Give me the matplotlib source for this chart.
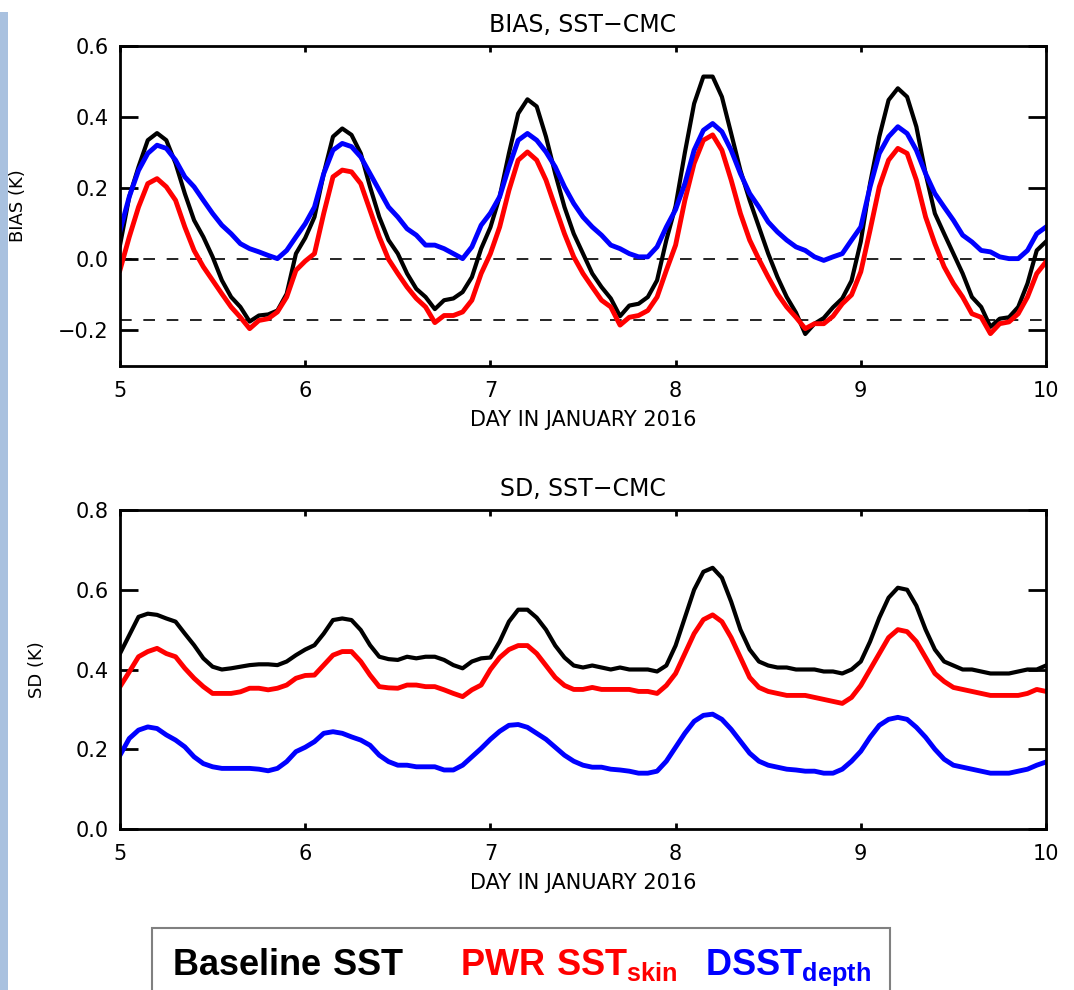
import numpy as np
import matplotlib
matplotlib.use("Agg")
import matplotlib.pyplot as plt
from matplotlib.patches import Rectangle

plt.rcParams['font.family'] = ['DejaVu Sans']
plt.rcParams['mathtext.fontset'] = 'custom'
plt.rcParams['mathtext.bf'] = 'Liberation Sans:bold'
plt.rcParams['mathtext.rm'] = 'Liberation Sans'

# time axis: days 5..10 every 0.05 day
days = np.round(np.linspace(5, 10, 101), 2)

# BIAS, SST-CMC (K)
bias_base = [
    0.04, 0.176, 0.26, 0.335, 0.355, 0.335, 0.27, 0.185, 0.11, 0.063,
    0.007, -0.059, -0.106, -0.134, -0.175, -0.158, -0.155, -0.144, -0.097, 0.016,
    0.06, 0.119, 0.241, 0.345, 0.368, 0.35, 0.298, 0.204, 0.119, 0.054,
    0.016, -0.04, -0.083, -0.106, -0.14, -0.115, -0.11, -0.092, -0.05, 0.03,
    0.09, 0.176, 0.298, 0.41, 0.45, 0.43, 0.345, 0.241, 0.147, 0.072,
    0.016, -0.04, -0.078, -0.11, -0.16, -0.13, -0.125, -0.106, -0.059, 0.054,
    0.15, 0.30, 0.438, 0.514, 0.514, 0.457, 0.354, 0.25, 0.166, 0.091,
    0.016, -0.05, -0.106, -0.15, -0.21, -0.181, -0.165, -0.135, -0.11, -0.06,
    0.05, 0.213, 0.345, 0.448, 0.481, 0.457, 0.373, 0.241, 0.129, 0.072,
    0.016, -0.04, -0.106, -0.134, -0.19, -0.167, -0.163, -0.134, -0.068, 0.025,
    0.05]
bias_skin = [
    -0.03, 0.063, 0.147, 0.213, 0.227, 0.204, 0.166, 0.091, 0.025, -0.021,
    -0.059, -0.097, -0.134, -0.163, -0.195, -0.172, -0.167, -0.148, -0.106, -0.031,
    -0.005, 0.016, 0.129, 0.232, 0.251, 0.246, 0.213, 0.138, 0.063, 0.0,
    -0.04, -0.078, -0.11, -0.134, -0.178, -0.158, -0.158, -0.148, -0.115, -0.04,
    0.016, 0.091, 0.194, 0.279, 0.302, 0.279, 0.223, 0.147, 0.072, 0.007,
    -0.04, -0.078, -0.115, -0.134, -0.185, -0.163, -0.158, -0.144, -0.106, -0.031,
    0.04, 0.166, 0.27, 0.335, 0.35, 0.307, 0.223, 0.129, 0.054, 0.0,
    -0.05, -0.097, -0.134, -0.163, -0.195, -0.181, -0.181, -0.16, -0.125, -0.1,
    -0.035, 0.082, 0.204, 0.279, 0.312, 0.298, 0.223, 0.119, 0.044, -0.021,
    -0.068, -0.106, -0.153, -0.163, -0.209, -0.181, -0.176, -0.153, -0.106, -0.04,
    -0.007]
bias_depth = [
    0.08, 0.176, 0.25, 0.298, 0.321, 0.312, 0.279, 0.232, 0.204, 0.166,
    0.129, 0.096, 0.072, 0.044, 0.03, 0.021, 0.011, 0.002, 0.025, 0.063,
    0.10, 0.147, 0.241, 0.307, 0.326, 0.317, 0.288, 0.241, 0.194, 0.147,
    0.119, 0.086, 0.068, 0.04, 0.04, 0.03, 0.016, 0.002, 0.035, 0.096,
    0.13, 0.176, 0.26, 0.335, 0.354, 0.335, 0.302, 0.26, 0.204, 0.157,
    0.119, 0.091, 0.068, 0.04, 0.03, 0.016, 0.007, 0.007, 0.035, 0.091,
    0.14, 0.213, 0.307, 0.363, 0.382, 0.359, 0.307, 0.241, 0.185, 0.147,
    0.105, 0.077, 0.054, 0.035, 0.025, 0.007, -0.003, 0.007, 0.016, 0.054,
    0.091, 0.204, 0.298, 0.345, 0.373, 0.354, 0.307, 0.241, 0.185, 0.147,
    0.11, 0.068, 0.049, 0.025, 0.021, 0.007, 0.002, 0.002, 0.025, 0.072,
    0.091]

# SD, SST-CMC (K)
sd_base = [
    0.44, 0.486, 0.532, 0.54, 0.537, 0.528, 0.52, 0.49, 0.461, 0.428,
    0.407, 0.40, 0.403, 0.407, 0.411, 0.413, 0.413, 0.411, 0.42, 0.436,
    0.45, 0.461, 0.49, 0.524, 0.528, 0.524, 0.499, 0.461, 0.432, 0.426,
    0.424, 0.432, 0.428, 0.432, 0.432, 0.424, 0.411, 0.403, 0.42, 0.428,
    0.43, 0.47, 0.52, 0.55, 0.55, 0.53, 0.50, 0.46, 0.43, 0.41,
    0.405, 0.41, 0.405, 0.40, 0.405, 0.40, 0.40, 0.40, 0.395, 0.41,
    0.46, 0.53, 0.60, 0.645, 0.655, 0.63, 0.57, 0.50, 0.45, 0.42,
    0.41, 0.405, 0.405, 0.40, 0.40, 0.40, 0.395, 0.395, 0.39, 0.40,
    0.42, 0.47, 0.53, 0.58, 0.605, 0.60, 0.56, 0.50, 0.45, 0.42,
    0.41, 0.40, 0.40, 0.395, 0.39, 0.39, 0.39, 0.395, 0.40, 0.40,
    0.41]
sd_skin = [
    0.357, 0.394, 0.432, 0.445, 0.453, 0.44, 0.432, 0.403, 0.378, 0.357,
    0.34, 0.34, 0.34, 0.344, 0.353, 0.353, 0.349, 0.353, 0.361, 0.378,
    0.385, 0.386, 0.411, 0.436, 0.445, 0.445, 0.42, 0.386, 0.357, 0.354,
    0.353, 0.361, 0.361, 0.357, 0.357, 0.349, 0.34, 0.332, 0.349, 0.361,
    0.40, 0.43, 0.45, 0.46, 0.46, 0.44, 0.41, 0.38, 0.36, 0.35,
    0.35, 0.355, 0.35, 0.35, 0.35, 0.35, 0.345, 0.345, 0.34, 0.36,
    0.39, 0.44, 0.49, 0.525, 0.537, 0.52, 0.48, 0.43, 0.38, 0.355,
    0.345, 0.34, 0.335, 0.335, 0.335, 0.33, 0.325, 0.32, 0.315, 0.33,
    0.36, 0.40, 0.44, 0.48, 0.50, 0.495, 0.47, 0.43, 0.39, 0.37,
    0.355, 0.35, 0.345, 0.34, 0.335, 0.335, 0.335, 0.335, 0.34, 0.35,
    0.345]
sd_depth = [
    0.185, 0.227, 0.248, 0.256, 0.252, 0.236, 0.223, 0.206, 0.181, 0.164,
    0.156, 0.152, 0.152, 0.152, 0.152, 0.15, 0.146, 0.152, 0.169, 0.194,
    0.205, 0.219, 0.24, 0.244, 0.24, 0.231, 0.223, 0.21, 0.185, 0.169,
    0.16, 0.16, 0.156, 0.156, 0.156, 0.148, 0.148, 0.16, 0.181, 0.202,
    0.225, 0.245, 0.26, 0.262, 0.255, 0.24, 0.225, 0.205, 0.185, 0.17,
    0.16, 0.155, 0.155, 0.15, 0.148, 0.145, 0.14, 0.14, 0.145, 0.17,
    0.205, 0.24, 0.27, 0.285, 0.288, 0.275, 0.25, 0.22, 0.19, 0.17,
    0.16, 0.155, 0.15, 0.148, 0.145, 0.145, 0.14, 0.14, 0.15, 0.17,
    0.195, 0.23, 0.26, 0.275, 0.28, 0.275, 0.255, 0.23, 0.2, 0.175,
    0.16, 0.155, 0.15, 0.145, 0.14, 0.14, 0.14, 0.145, 0.15, 0.16,
    0.168]

ref_lines = [0.0, -0.17]
xticks = [5, 6, 7, 8, 9, 10]

fig = plt.figure(figsize=(10.74, 9.9), dpi=100)

# light blue strip at the left edge (slide background)
fig.patches.append(Rectangle((0, 0), 8 / 1074, 1 - 12 / 990, transform=fig.transFigure,
                             facecolor='#A9C1DF', edgecolor='none'))

ax1 = fig.add_axes([120 / 1074, 1 - 366 / 990, 926 / 1074, 320 / 990])
ax2 = fig.add_axes([120 / 1074, 1 - 829 / 990, 926 / 1074, 319 / 990])


def style(ax, title, ylabel, ylim, yticks, ylab_x):
    ax.set_xlim(5, 10)
    ax.set_ylim(*ylim)
    ax.set_xticks(xticks)
    ax.set_yticks(yticks)
    ax.set_yticklabels([('%.1f' % v).replace('-', '\u2212') for v in yticks])
    for s in ax.spines.values():
        s.set_linewidth(2)
    ax.tick_params(axis='x', direction='in', length=4.6, width=2, top=True,
                   labelsize=15, pad=11)
    ax.tick_params(axis='y', direction='in', length=13, width=2, right=True,
                   labelsize=15, pad=8)
    ax.set_title(title, fontsize=17, pad=10)
    ax.set_xlabel('DAY IN JANUARY 2016', fontsize=15, labelpad=6)
    ax.set_ylabel(ylabel, fontsize=13)
    ax.yaxis.set_label_coords(ylab_x, 0.5)


for y in ref_lines:
    ax1.axhline(y, color='black', lw=1.2, ls=(0, (7, 7)))
ax1.plot(days, bias_base, color='black', lw=3)
ax1.plot(days, bias_skin, color='#FF0000', lw=3.5)
ax1.plot(days, bias_depth, color='#0000FF', lw=3.5)
style(ax1, 'BIAS, SST\u2212CMC', 'BIAS (K)', (-0.3, 0.6), [-0.2, 0.0, 0.2, 0.4, 0.6], -0.1)

ax2.plot(days, sd_base, color='black', lw=3)
ax2.plot(days, sd_skin, color='#FF0000', lw=3.5)
ax2.plot(days, sd_depth, color='#0000FF', lw=3.5)
style(ax2, 'SD, SST\u2212CMC', 'SD (K)', (0.0, 0.8), [0.0, 0.2, 0.4, 0.6, 0.8], -0.08)

# legend box at the bottom
fig.patches.append(Rectangle((152 / 1074, -0.01), 738 / 1074, 0.01 + 1 - 928 / 990,
                             transform=fig.transFigure, facecolor='white',
                             edgecolor='#808080', lw=1.5))
fig.text(172 / 1074, 1 - 975 / 990, r'$\mathbf{Baseline\ SST}$', fontsize=26,
         color='black', va='baseline')
fig.text(460 / 1074, 1 - 975 / 990, r'$\mathbf{PWR\ SST}_{\mathbf{skin}}$', fontsize=26,
         color='#FF0000', va='baseline')
fig.text(705 / 1074, 1 - 975 / 990, r'$\mathbf{DSST}_{\mathbf{depth}}$', fontsize=26,
         color='#0000FF', va='baseline')

fig.savefig('out.png', dpi=100)
